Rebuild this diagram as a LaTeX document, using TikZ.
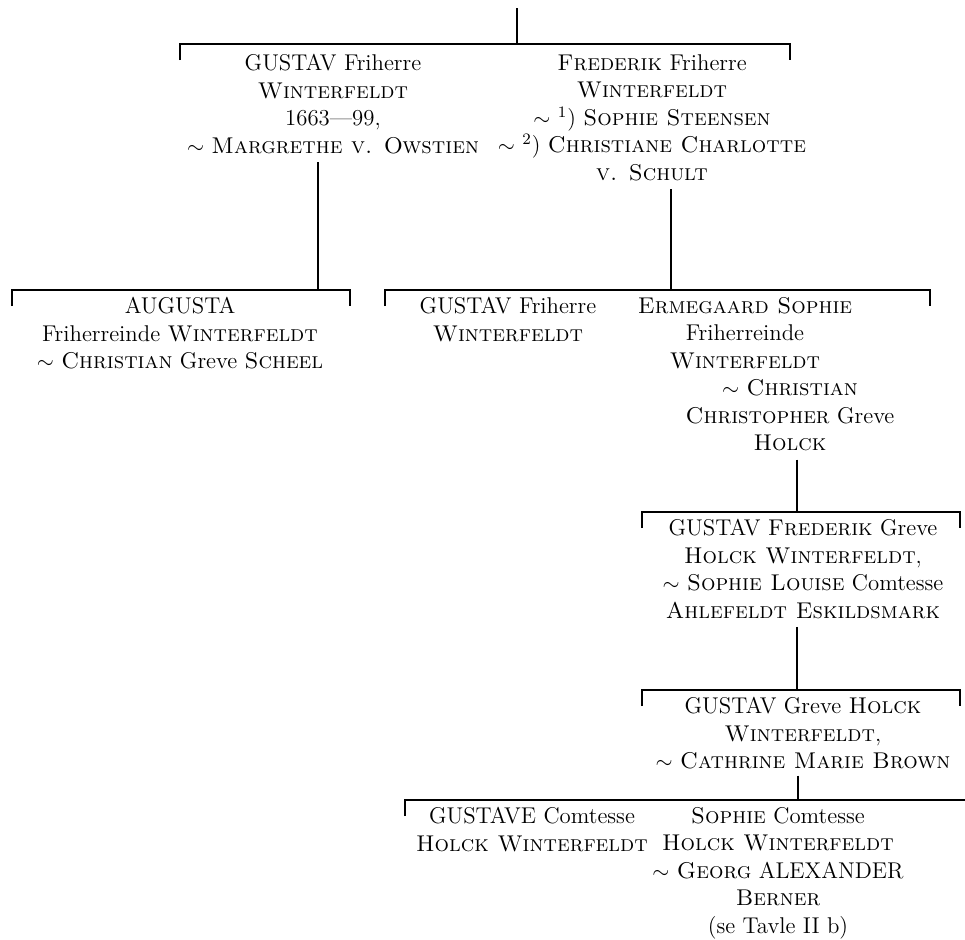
\documentclass[tikz,border=0pt]{standalone}
\usetikzlibrary{calc}
\begin{document}
\begin{tikzpicture}[x=0.5pt,y=-0.5pt,
  person/.style={align=center,anchor=north,inner sep=0pt,
    font=\fontsize{11.4}{13.75}\selectfont},
  line/.style={line width=1.3pt},
  bar/.style={line width=1.3pt}]
\useasboundingbox (0,0) rectangle (965,939);

% persons
\node[person] (gustav) at (333,54) {GUSTAV Friherre\\ \textsc{Winterfeldt}\\ 1663---99,\\ $\sim$ \textsc{Margrethe v. Owstien}};
\node[person] (frederik) at (652,54) {\textsc{Frederik} Friherre\\ \textsc{Winterfeldt}\\ $\sim$ \textsuperscript{1}) \textsc{Sophie Steensen}\\ $\sim$ \textsuperscript{2}) \textsc{Christiane Charlotte}\\ \textsc{v. Schult}};
\node[person] (augusta) at (180,297) {AUGUSTA\\ Friherreinde \textsc{Winterfeldt}\\ $\sim$ \textsc{Christian} Greve \textsc{Scheel}};
\node[person] (gustavb) at (508,297) {GUSTAV Friherre\\ \textsc{Winterfeldt}};
\node[person] (ermeg) at (790,297) {\mbox{\textsc{Ermegaard Sophie}\kern45pt}\\ \mbox{Friherreinde\kern45pt}\\ \mbox{\textsc{Winterfeldt}\kern45pt}\\ $\sim$ \textsc{Christian}\\ \textsc{Christopher} Greve\\ \textsc{Holck}};
\node[person] (gfred) at (803,519) {GUSTAV \textsc{Frederik} Greve\\ \textsc{Holck Winterfeldt},\\ $\sim$ \textsc{Sophie Louise} Comtesse\\ \textsc{Ahlefeldt Eskildsmark}};
\node[person] (gholck) at (803,697) {GUSTAV Greve \textsc{Holck}\\ \textsc{Winterfeldt},\\ $\sim$ \textsc{Cathrine Marie Brown}};
\node[person] (gustave) at (532,807) {GUSTAVE Comtesse\\ \textsc{Holck Winterfeldt}};
\node[person] (sophie) at (778,807) {\textsc{Sophie} Comtesse\\ \textsc{Holck Winterfeldt}\\ $\sim$ \textsc{Georg} ALEXANDER\\ \textsc{Berner}\\ (se Tavle II b)};

% junction points on the bars
\coordinate (top) at (517,8);
\coordinate (j1) at (517,44);
\coordinate (j2) at (318,290);
\coordinate (j3) at (671,290);
\coordinate (j4) at (797,512);
\coordinate (j5) at (797,690);
\coordinate (j6) at (798,800);

% bars with end ticks
\draw[bar] (180,60) -- (180,44) -- (790,44) -- (790,60);
\draw[bar] (12,306) -- (12,290) -- (350,290) -- (350,306);
\draw[bar] (385,306) -- (385,290) -- (930,290) -- (930,306);
\draw[bar] (642,528) -- (642,512) -- (960,512) -- (960,528);
\draw[bar] (642,706) -- (642,690) -- (960,690) -- (960,706);
\draw[bar] (405,816) -- (405,800) -- (965,800);

% descent lines
\draw[line] (top) -- (j1);
\draw[line] ($(gustav.south -| j2)+(0,8)$) -- (j2);
\draw[line] ($(frederik.south -| j3)+(0,8)$) -- (j3);
\draw[line] ($(ermeg.south -| j4)+(0,8)$) -- (j4);
\draw[line] ($(gfred.south -| j5)+(0,8)$) -- (j5);
\draw[line] ($(gholck.south -| j6)+(0,6)$) -- (j6);
\end{tikzpicture}
\end{document}
